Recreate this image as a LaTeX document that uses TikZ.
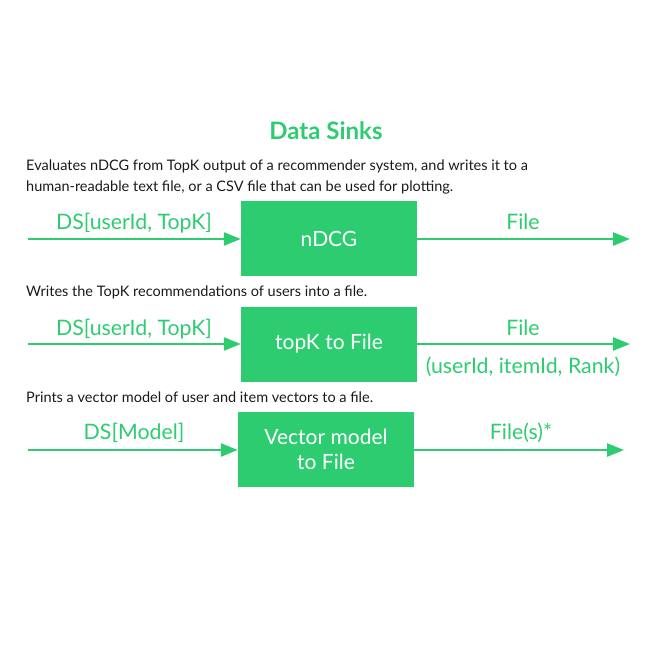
\documentclass[tikz,border=0pt]{standalone}
\usepackage{fontspec}
\setmainfont{Lato}
\usetikzlibrary{arrows.meta}
\definecolor{sinkgreen}{HTML}{2ECC71}
\definecolor{desctext}{HTML}{1A1A1A}
\tikzset{
  box/.style={fill=sinkgreen, text=white, minimum width=176pt, minimum height=75pt, inner sep=0pt, align=center, font=\fontsize{21}{25}\selectfont},
  flow/.style={draw=sinkgreen, line width=2.6pt, -{Triangle[length=17pt,width=13pt]}},
  lbl/.style={text=sinkgreen, inner sep=0pt, anchor=base, font=\fontsize{21.3}{24}\selectfont},
  desc/.style={text=desctext, inner sep=0pt, anchor=base west, font=\fontsize{14.5}{20}\selectfont},
  title/.style={text=sinkgreen, inner sep=0pt, anchor=base, font=\fontsize{24}{28}\selectfont\bfseries}
}
\begin{document}
\begin{tikzpicture}[x=1pt,y=-1pt]
\useasboundingbox (0,0) rectangle (656,656);
\node[title] (t) at (326,139) {Data Sinks};
\node[desc] (d1a) at (26,170.5) {Evaluates nDCG from TopK output of a recommender system, and writes it to a};
\node[desc] (d1b) at (26,191) {human-readable text file, or a CSV file that can be used for plotting.};
\node[desc] (d2) at (26,296.5) {Writes the TopK recommendations of users into a file.};
\node[desc] (d3) at (26,402) {Prints a vector model of user and item vectors to a file.};

\node[box] (b1) at (329,238.5) {nDCG};
\node[box] (b2) at (329,344) {topK to File};
\node[box] (b3) at (326,449) {Vector model\\to File};

\coordinate (i1) at (28,239);
\coordinate (o1) at (630,239);
\coordinate (i2) at (28,344);
\coordinate (o2) at (630,344);
\coordinate (i3) at (28,450);
\coordinate (o3) at (624,450);

\draw[flow] (i1) -- (b1.west |- i1);
\draw[flow] (b1.east |- o1) -- (o1);
\draw[flow] (i2) -- (b2.west |- i2);
\draw[flow] (b2.east |- o2) -- (o2);
\draw[flow] (i3) -- (b3.west |- i3);
\draw[flow] (b3.east |- o3) -- (o3);

\node[lbl] (l1) at (134,229.5) {DS[userId, TopK]};
\node[lbl] (r1) at (523,229.5) {File};
\node[lbl] (l2) at (134,335) {DS[userId, TopK]};
\node[lbl] (r2) at (523,335) {File};
\node[lbl] (r2b) at (523,373) {(userId, itemId, Rank)};
\node[lbl] (l3) at (134,439) {DS[Model]};
\node[lbl] (r3) at (521,439) {File(s)*};
\end{tikzpicture}
\end{document}
